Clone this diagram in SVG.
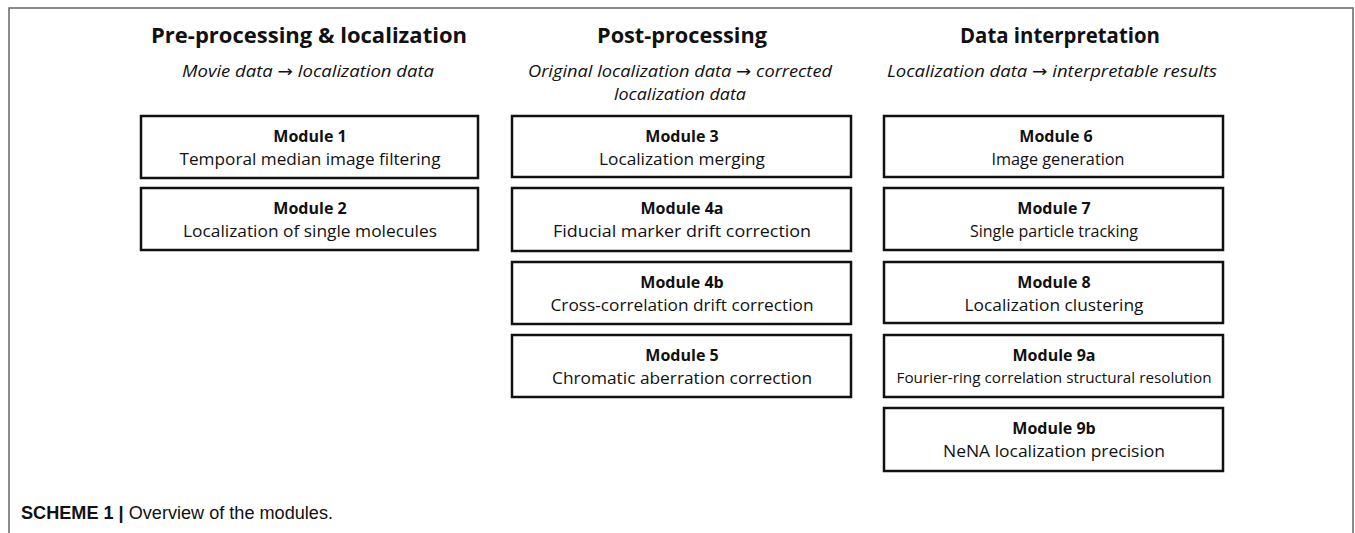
<svg xmlns="http://www.w3.org/2000/svg" width="1355" height="533" viewBox="0 0 1355 533">
<style>
.frame{fill:none;stroke:#666;stroke-width:1.5}
.box{fill:#fff;stroke:#111;stroke-width:2.5}
.title{font-family:"Open Sans","Noto Sans",sans-serif;font-weight:bold;font-size:22px;fill:#111;text-anchor:middle}
.sub{font-family:"Open Sans","Noto Sans",sans-serif;font-style:italic;font-size:16px;fill:#111;text-anchor:middle}
.arr{font-family:"DejaVu Sans",sans-serif;font-style:normal}
.mh{font-family:"Open Sans","Noto Sans",sans-serif;font-weight:bold;font-size:16px;fill:#111;text-anchor:middle}
.md{font-family:"Open Sans","Noto Sans",sans-serif;font-size:16px;fill:#111;text-anchor:middle}
.cap{font-family:"Liberation Sans",Arial,sans-serif;font-size:18px;fill:#111}
</style>
<rect width="1355" height="533" fill="#fff"/>
<path class="frame" d="M9,533 V8 H1353 V533"/>

<g id="headers">
<text class="title" x="309" y="43" textLength="316" lengthAdjust="spacingAndGlyphs">Pre-processing &amp; localization</text>
<text class="sub" x="308" y="77" textLength="252" lengthAdjust="spacingAndGlyphs">Movie data <tspan class="arr">→</tspan> localization data</text>
<text class="title" x="682" y="43" textLength="170" lengthAdjust="spacingAndGlyphs">Post-processing</text>
<text class="sub" x="680" y="77" textLength="304" lengthAdjust="spacingAndGlyphs">Original localization data <tspan class="arr">→</tspan> corrected</text>
<text class="sub" x="680" y="100" textLength="132" lengthAdjust="spacingAndGlyphs">localization data</text>
<text class="title" x="1060" y="43" textLength="200" lengthAdjust="spacingAndGlyphs">Data interpretation</text>
<text class="sub" x="1052" y="77" textLength="330" lengthAdjust="spacingAndGlyphs">Localization data <tspan class="arr">→</tspan> interpretable results</text>
</g>

<g id="module1">
<rect class="box" x="141" y="116" width="337" height="62"/>
<text class="mh" x="310" y="142">Module 1</text>
<text class="md" x="310" y="165" textLength="261" lengthAdjust="spacingAndGlyphs">Temporal median image filtering</text>
</g>
<g id="module2">
<rect class="box" x="141" y="188" width="337" height="62"/>
<text class="mh" x="310" y="214">Module 2</text>
<text class="md" x="310" y="237" textLength="254" lengthAdjust="spacingAndGlyphs">Localization of single molecules</text>
</g>

<g id="module3">
<rect class="box" x="512" y="116" width="339" height="61"/>
<text class="mh" x="682" y="142">Module 3</text>
<text class="md" x="682" y="165" textLength="166" lengthAdjust="spacingAndGlyphs">Localization merging</text>
</g>
<g id="module4a">
<rect class="box" x="512" y="188" width="339" height="63"/>
<text class="mh" x="682" y="214">Module 4a</text>
<text class="md" x="682" y="237" textLength="258" lengthAdjust="spacingAndGlyphs">Fiducial marker drift correction</text>
</g>
<g id="module4b">
<rect class="box" x="512" y="262" width="339" height="62"/>
<text class="mh" x="682" y="288">Module 4b</text>
<text class="md" x="682" y="311" textLength="263" lengthAdjust="spacingAndGlyphs">Cross-correlation drift correction</text>
</g>
<g id="module5">
<rect class="box" x="512" y="335" width="339" height="62"/>
<text class="mh" x="682" y="361">Module 5</text>
<text class="md" x="682" y="384" textLength="260" lengthAdjust="spacingAndGlyphs">Chromatic aberration correction</text>
</g>

<g id="module6">
<rect class="box" x="884" y="116" width="339" height="61"/>
<text class="mh" x="1056" y="142">Module 6</text>
<text class="md" x="1058" y="165" textLength="133" lengthAdjust="spacingAndGlyphs">Image generation</text>
</g>
<g id="module7">
<rect class="box" x="884" y="188" width="339" height="62"/>
<text class="mh" x="1054" y="214">Module 7</text>
<text class="md" x="1054" y="237">Single particle tracking</text>
</g>
<g id="module8">
<rect class="box" x="884" y="262" width="339" height="61"/>
<text class="mh" x="1054" y="288">Module 8</text>
<text class="md" x="1054" y="311" textLength="179" lengthAdjust="spacingAndGlyphs">Localization clustering</text>
</g>
<g id="module9a">
<rect class="box" x="884" y="335" width="339" height="62"/>
<text class="mh" x="1054" y="361">Module 9a</text>
<text class="md" x="1054" y="383" style="font-size:14px" textLength="315" lengthAdjust="spacingAndGlyphs">Fourier-ring correlation structural resolution</text>
</g>
<g id="module9b">
<rect class="box" x="884" y="408" width="339" height="63"/>
<text class="mh" x="1054" y="434">Module 9b</text>
<text class="md" x="1054" y="457" textLength="222" lengthAdjust="spacingAndGlyphs">NeNA localization precision</text>
</g>

<g id="caption">
<text class="cap" x="21" y="519" textLength="312" lengthAdjust="spacingAndGlyphs"><tspan font-weight="bold">SCHEME 1 |</tspan> Overview of the modules.</text>
</g>
</svg>
